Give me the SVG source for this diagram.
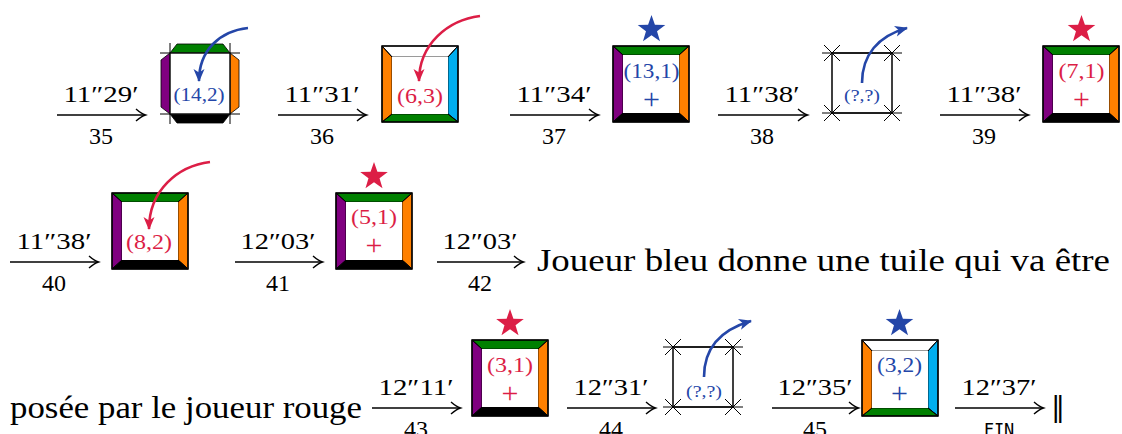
<svg xmlns="http://www.w3.org/2000/svg" width="1122" height="434" viewBox="0 0 1122 434">
<style>
.lbl{font-family:"Liberation Serif","DejaVu Serif",serif;font-size:24px;fill:#000;text-anchor:middle}
.tt{font-family:"Liberation Serif","DejaVu Serif",serif;text-anchor:middle}
.blue{fill:#2446A8}
.red{fill:#DC1E46}
.g{fill:#008000}.p{fill:#800080}.o{fill:#FF8000}.k{fill:#000}.c{fill:#00AEEF}.w{fill:#fff}
.band{stroke:#000;stroke-width:0.8}
.frame{fill:none;stroke:#000;stroke-width:1.5}
.diag{stroke:#000;stroke-width:1}
.tick{stroke:#000;stroke-width:1;fill:none}
.arr{stroke:#000;stroke-width:1.4;fill:none;marker-end:url(#to)}
.cb{stroke:#2446A8;stroke-width:2.6;fill:none;marker-end:url(#hb)}
.cr{stroke:#DC1E46;stroke-width:2.6;fill:none;marker-end:url(#hr)}
</style>
<defs>
<marker id="to" markerUnits="userSpaceOnUse" markerWidth="10" markerHeight="12" refX="0" refY="0" orient="auto" overflow="visible">
<path d="M-9,-6 Q-3.5,-1.2 0.5,0 Q-3.5,1.2 -9,6" fill="none" stroke="#000" stroke-width="1.4"/>
</marker>
<marker id="hb" markerUnits="userSpaceOnUse" markerWidth="14" markerHeight="12" refX="0" refY="0" orient="auto" overflow="visible">
<path d="M-12,-5.5 L1,0 L-12,5.5 L-8.5,0 z" fill="#2446A8"/>
</marker>
<marker id="hr" markerUnits="userSpaceOnUse" markerWidth="14" markerHeight="12" refX="0" refY="0" orient="auto" overflow="visible">
<path d="M-12,-5.5 L1,0 L-12,5.5 L-8.5,0 z" fill="#DC1E46"/>
</marker>
<polygon id="star" points="0,-14.5 3.41,-4.69 13.79,-4.48 5.52,1.79 8.52,11.73 0,5.8 -8.52,11.73 -5.52,1.79 -13.79,-4.48 -3.41,-4.69"/>
<g id="tileGOKP">
<polygon class="g band" points="0,0 76,0 66,9 10,9"/>
<polygon class="o band" points="76,0 76,76 66,67 66,9"/>
<polygon class="k band" points="0,76 76,76 66,67 10,67"/>
<polygon class="p band" points="0,0 10,9 10,67 0,76"/>
<rect x="10" y="9" width="56" height="58" fill="#fff"/>
<line class="diag" x1="0" y1="0" x2="10" y2="9"/><line class="diag" x1="76" y1="0" x2="66" y2="9"/>
<line class="diag" x1="0" y1="76" x2="10" y2="67"/><line class="diag" x1="76" y1="76" x2="66" y2="67"/>
<rect class="frame" x="0" y="0" width="76" height="76"/>
</g>
<g id="tileWCGO">
<polygon class="w band" points="0,0 76,0 66,11 10,11"/>
<polygon class="c band" points="76,0 76,76 66,68 66,11"/>
<polygon class="g band" points="0,76 76,76 66,68 10,68"/>
<polygon class="o band" points="0,0 10,11 10,68 0,76"/>
<rect x="10" y="11" width="56" height="57" fill="#fff"/>
<line class="diag" x1="0" y1="0" x2="10" y2="11"/><line class="diag" x1="76" y1="0" x2="66" y2="11"/>
<line class="diag" x1="0" y1="76" x2="10" y2="68"/><line class="diag" x1="76" y1="76" x2="66" y2="68"/>
<rect class="frame" x="0" y="0" width="76" height="76"/>
</g>
<g id="empty">
<rect x="0" y="0" width="60" height="60" fill="#fff" stroke="#000" stroke-width="1.5"/>
<path class="tick" d="M-10,0 H70 M-10,60 H70 M-8,-8 L8,8 M-8,8 L8,-8 M52,-8 L68,8 M52,8 L68,-8 M-8,52 L8,68 M-8,68 L8,52 M52,52 L68,68 M52,68 L68,52"/>
</g>
</defs>

<g id="tile35">
<polygon class="g band" points="170,53 230,53 223,44 177,44"/>
<polygon class="o band" points="230,53 239,60 239,107 230,114"/>
<polygon class="k band" points="170,114 230,114 223,123 177,123"/>
<polygon class="p band" points="170,53 161,60 161,107 170,114"/>
<rect x="170" y="53" width="60" height="61" fill="#fff" stroke="#333" stroke-width="1"/>
<path class="tick" d="M160,53 H240 M160,114 H240 M170,43 V124 M230,43 V124"/>
<text class="tt blue" x="199" y="101" font-size="19" textLength="51" lengthAdjust="spacingAndGlyphs">(14,2)</text>
</g>
<g id="tile36">
<use href="#tileWCGO" x="382" y="46"/>
<text class="tt red" x="420" y="103" font-size="22" textLength="46" lengthAdjust="spacingAndGlyphs">(6,3)</text>
</g>
<g id="tile37">
<use href="#star" x="651.5" y="29.5" class="blue"/>
<use href="#tileGOKP" x="613" y="46"/>
<text class="tt blue" x="651.5" y="78" font-size="22" textLength="56" lengthAdjust="spacingAndGlyphs">(13,1)</text>
<text class="tt blue" x="651.5" y="109" font-size="30">+</text>
</g>
<g id="tile38">
<use href="#empty" x="832" y="53"/>
<text class="tt blue" x="862" y="101" font-size="17" textLength="36" lengthAdjust="spacingAndGlyphs">(?,?)</text>
</g>
<g id="tile39">
<use href="#star" x="1081.5" y="29.5" class="red"/>
<use href="#tileGOKP" x="1043" y="46"/>
<text class="tt red" x="1081.5" y="78" font-size="22" textLength="46" lengthAdjust="spacingAndGlyphs">(7,1)</text>
<text class="tt red" x="1081.5" y="109" font-size="30">+</text>
</g>
<g id="tile40">
<use href="#tileGOKP" x="112" y="193"/>
<text class="tt red" x="149" y="249" font-size="22" textLength="46" lengthAdjust="spacingAndGlyphs">(8,2)</text>
</g>
<g id="tile41">
<use href="#star" x="374" y="176.5" class="red"/>
<use href="#tileGOKP" x="336" y="193"/>
<text class="tt red" x="374" y="224" font-size="22" textLength="46" lengthAdjust="spacingAndGlyphs">(5,1)</text>
<text class="tt red" x="374" y="255" font-size="30">+</text>
</g>
<g id="tile43">
<use href="#star" x="510" y="323.5" class="red"/>
<use href="#tileGOKP" x="472" y="340"/>
<text class="tt red" x="510" y="372" font-size="22" textLength="46" lengthAdjust="spacingAndGlyphs">(3,1)</text>
<text class="tt red" x="510" y="403" font-size="30">+</text>
</g>
<g id="tile44">
<use href="#empty" x="673" y="347"/>
<text class="tt blue" x="704" y="397" font-size="17" textLength="36" lengthAdjust="spacingAndGlyphs">(?,?)</text>
</g>
<g id="tile45">
<use href="#star" x="899.5" y="323.5" class="blue"/>
<use href="#tileWCGO" x="862" y="340"/>
<text class="tt blue" x="899.5" y="372" font-size="22" textLength="45" lengthAdjust="spacingAndGlyphs">(3,2)</text>
<text class="tt blue" x="899.5" y="403" font-size="30">+</text>
</g>

<g id="texts">
<text x="537" y="271" font-family="'Liberation Serif', 'DejaVu Serif', serif" font-size="31" fill="#000" textLength="573" lengthAdjust="spacingAndGlyphs">Joueur bleu donne une tuile qui va être</text>
<text x="10" y="418" font-family="'Liberation Serif', 'DejaVu Serif', serif" font-size="31" fill="#000" textLength="352" lengthAdjust="spacingAndGlyphs">posée par le joueur rouge</text>
<text x="1058" y="416" font-family="'DejaVu Serif', serif" font-size="28" text-anchor="middle">‖</text>
</g>

<g id="connectors">
<line class="arr" x1="57" y1="115" x2="145" y2="115"/>
<text class="lbl" x="101" y="102" textLength="75" lengthAdjust="spacingAndGlyphs">11″29′</text>
<text class="lbl" x="101" y="144">35</text>
<line class="arr" x1="278" y1="115" x2="366" y2="115"/>
<text class="lbl" x="322" y="102" textLength="75" lengthAdjust="spacingAndGlyphs">11″31′</text>
<text class="lbl" x="322" y="144">36</text>
<line class="arr" x1="510" y1="115" x2="598" y2="115"/>
<text class="lbl" x="554" y="102" textLength="75" lengthAdjust="spacingAndGlyphs">11″34′</text>
<text class="lbl" x="554" y="144">37</text>
<line class="arr" x1="718" y1="115" x2="807" y2="115"/>
<text class="lbl" x="762" y="102" textLength="75" lengthAdjust="spacingAndGlyphs">11″38′</text>
<text class="lbl" x="762" y="144">38</text>
<line class="arr" x1="940" y1="115" x2="1028" y2="115"/>
<text class="lbl" x="984" y="102" textLength="75" lengthAdjust="spacingAndGlyphs">11″38′</text>
<text class="lbl" x="984" y="144">39</text>

<line class="arr" x1="10" y1="262" x2="98" y2="262"/>
<text class="lbl" x="54" y="249" textLength="75" lengthAdjust="spacingAndGlyphs">11″38′</text>
<text class="lbl" x="54" y="291">40</text>
<line class="arr" x1="235" y1="262" x2="322" y2="262"/>
<text class="lbl" x="278" y="249" textLength="75" lengthAdjust="spacingAndGlyphs">12″03′</text>
<text class="lbl" x="278" y="291">41</text>
<line class="arr" x1="437" y1="262" x2="523" y2="262"/>
<text class="lbl" x="480" y="249" textLength="75" lengthAdjust="spacingAndGlyphs">12″03′</text>
<text class="lbl" x="480" y="291">42</text>

<line class="arr" x1="372" y1="408" x2="460" y2="408"/>
<text class="lbl" x="416" y="395" textLength="75" lengthAdjust="spacingAndGlyphs">12″11′</text>
<text class="lbl" x="416" y="437">43</text>
<line class="arr" x1="567" y1="408" x2="655" y2="408"/>
<text class="lbl" x="611" y="395" textLength="75" lengthAdjust="spacingAndGlyphs">12″31′</text>
<text class="lbl" x="611" y="437">44</text>
<line class="arr" x1="772" y1="408" x2="858" y2="408"/>
<text class="lbl" x="815" y="395" textLength="75" lengthAdjust="spacingAndGlyphs">12″35′</text>
<text class="lbl" x="815" y="437">45</text>
<line class="arr" x1="955" y1="408" x2="1043" y2="408"/>
<text class="lbl" x="999" y="395" textLength="75" lengthAdjust="spacingAndGlyphs">12″37′</text>
<text x="999" y="436" font-family="'DejaVu Sans Mono', monospace" font-size="17" text-anchor="middle">FIN</text>

<path class="cb" d="M248,28 C220,31 199,50 199,81"/>
<path class="cr" d="M480,16 C448,20 419,44 419,81"/>
<path class="cb" d="M862,83 C862,55 878,36 907,28"/>
<path class="cr" d="M210,162 C178,166 149,190 149,229"/>
<path class="cb" d="M704,377 C704,349 720,330 751,321"/>
</g>
</svg>
